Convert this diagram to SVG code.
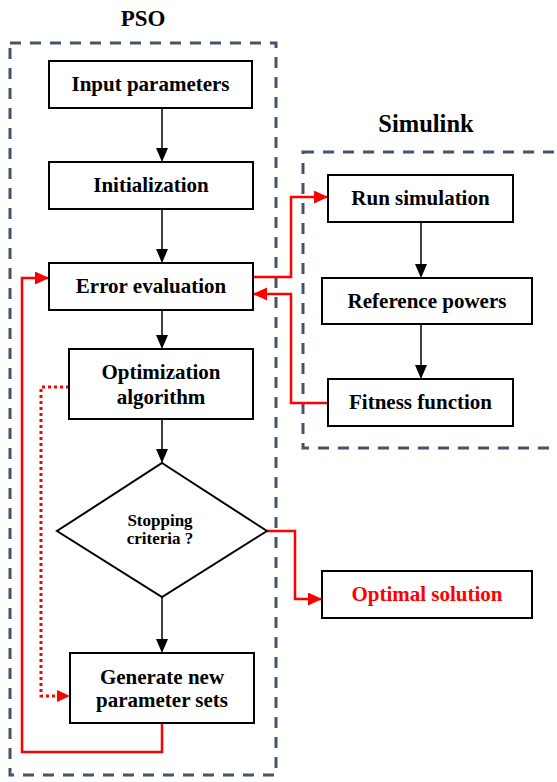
<svg xmlns="http://www.w3.org/2000/svg" width="557" height="782" viewBox="0 0 557 782">
<defs>
<style>
.frame{fill:none;stroke:#44546A;stroke-width:3;stroke-dasharray:11 9}
.box{fill:#fff;stroke:#000;stroke-width:2}
.t{font-family:"Liberation Serif","Times New Roman",serif;font-weight:bold;font-size:21px;text-anchor:middle;fill:#000}
.title{font-family:"Liberation Serif","Times New Roman",serif;font-weight:bold;font-size:23px;text-anchor:middle;fill:#000}
.small{font-size:17px}
.blk{fill:none;stroke:#000;stroke-width:1.5}
.red{fill:none;stroke:#FF0000;stroke-width:2.5}
.dot{fill:none;stroke:#FF0000;stroke-width:3;stroke-dasharray:3 3}
</style>
<marker id="ab" markerWidth="12" markerHeight="14" viewBox="0 0 12 14" refX="14" refY="6" orient="auto" markerUnits="userSpaceOnUse"><path d="M0,0 L14,6 L0,12 Z" fill="#000"/></marker>
<marker id="ar" markerWidth="14" markerHeight="14" viewBox="0 0 14 14" refX="14" refY="6.5" orient="auto" markerUnits="userSpaceOnUse"><path d="M0,0 L14,6.5 L0,13 Z" fill="#FF0000"/></marker>
</defs>
<g id="frames">
<rect class="frame" x="10" y="43" width="266" height="732"/>
<rect class="frame" x="303" y="152" width="265" height="296"/>
<text class="title" x="143" y="26">PSO</text>
<text class="title" x="426" y="132" style="font-size:24.5px">Simulink</text>
</g>
<g id="connectors">
<line class="blk" x1="162" y1="108" x2="162" y2="162" marker-end="url(#ab)"/>
<line class="blk" x1="162" y1="209" x2="162" y2="263" marker-end="url(#ab)"/>
<line class="blk" x1="162" y1="310" x2="162" y2="349" marker-end="url(#ab)"/>
<line class="blk" x1="162" y1="419" x2="162" y2="463" marker-end="url(#ab)"/>
<line class="blk" x1="162" y1="597" x2="162" y2="653" marker-end="url(#ab)"/>
<line class="blk" x1="421" y1="222" x2="421" y2="278" marker-end="url(#ab)"/>
<line class="blk" x1="421" y1="324" x2="421" y2="379" marker-end="url(#ab)"/>
<polyline class="red" points="253,277 291,277 291,197 328,197" marker-end="url(#ar)"/>
<polyline class="red" points="328,403 291,403 291,294 253,294" marker-end="url(#ar)"/>
<polyline class="red" points="267,531 295,531 295,599 322,599" marker-end="url(#ar)"/>
<polyline class="red" points="162,723 162,752 22,752 22,278 49,278" marker-end="url(#ar)"/>
<polyline class="dot" points="69,387 41,387 41,696 56,696"/>
<path d="M57,690 L70,696 L57,702 Z" fill="#FF0000"/>
</g>
<g id="input"><rect class="box" x="49" y="61" width="203" height="47"/><text class="t" x="150.5" y="91">Input parameters</text></g>
<g id="init"><rect class="box" x="49" y="162" width="204" height="47"/><text class="t" x="151" y="192">Initialization</text></g>
<g id="error"><rect class="box" x="49" y="263" width="204" height="47"/><text class="t" x="151" y="293">Error evaluation</text></g>
<g id="opt"><rect class="box" x="69" y="349" width="184" height="70"/><text class="t" x="161" y="379">Optimization</text><text class="t" x="161" y="404">algorithm</text></g>
<g id="stop"><polygon class="box" points="162,463 267,531 162,597 57,531"/><text class="t small" x="160" y="526">Stopping</text><text class="t small" x="160" y="544">criteria ?</text></g>
<g id="gen"><rect class="box" x="70" y="653" width="184" height="70"/><text class="t" x="162" y="684">Generate new</text><text class="t" x="162" y="707">parameter sets</text></g>
<g id="run"><rect class="box" x="328" y="175" width="185" height="47"/><text class="t" x="420.5" y="205">Run simulation</text></g>
<g id="ref"><rect class="box" x="322" y="278" width="210" height="46"/><text class="t" x="427" y="308">Reference powers</text></g>
<g id="fit"><rect class="box" x="328" y="379" width="185" height="47"/><text class="t" x="420.5" y="409">Fitness function</text></g>
<g id="optimal"><rect class="box" x="322" y="571" width="210" height="47"/><text class="t" x="427" y="601" style="fill:#FF0000">Optimal solution</text></g>
</svg>
